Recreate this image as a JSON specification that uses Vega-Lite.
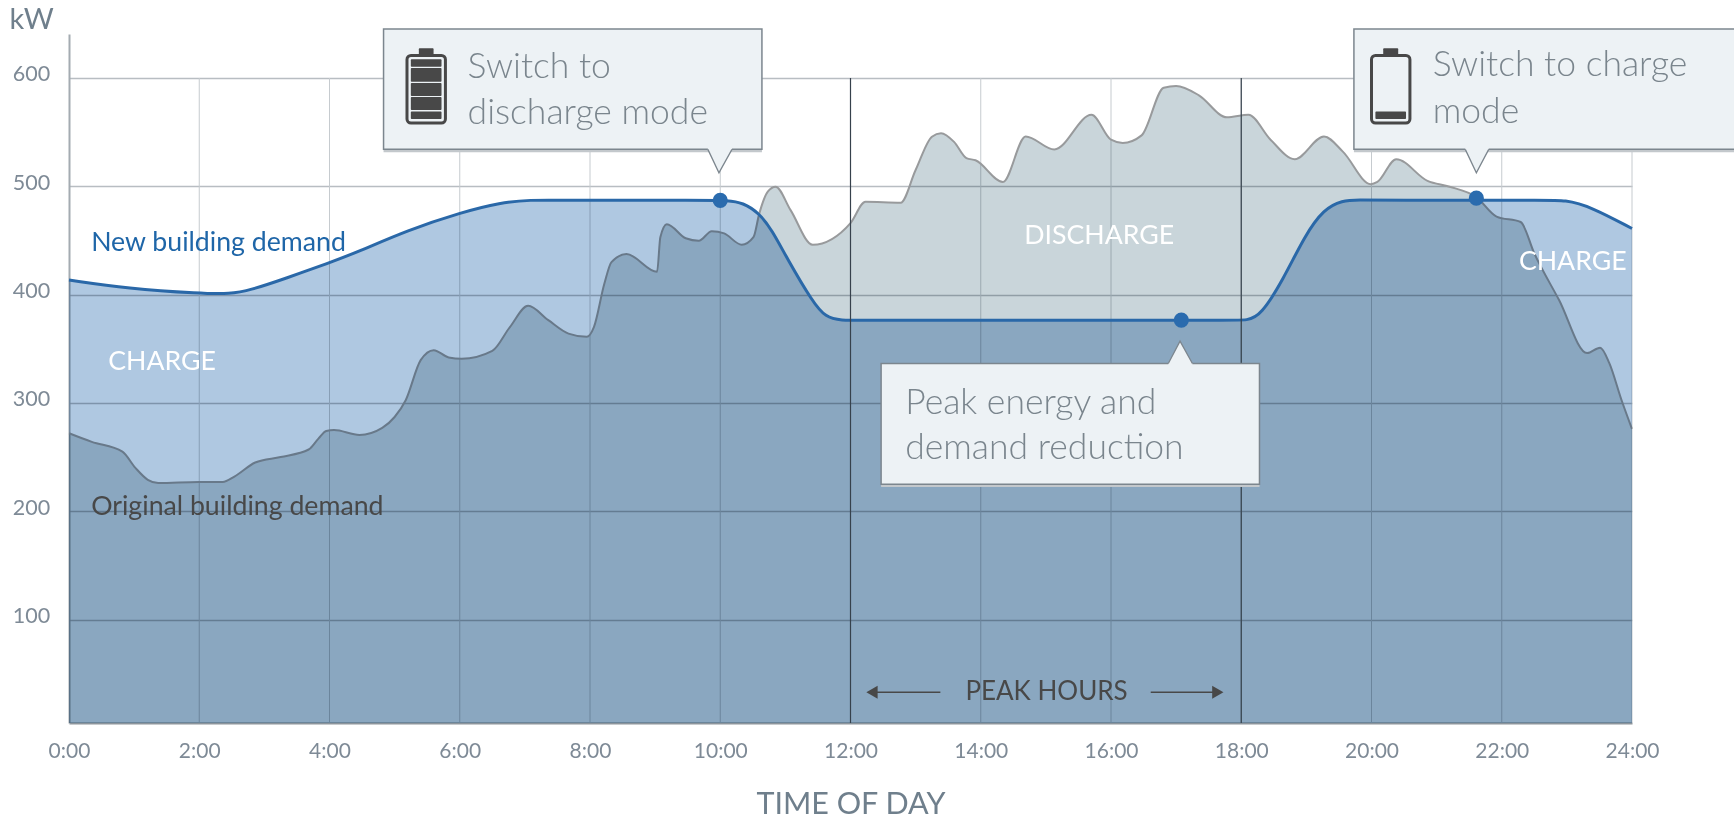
{
"$schema":"https://vega.github.io/schema/vega-lite/v6.json",
"width":1563,"height":689,"autosize":{"type":"none"},
"padding":{"left":69,"top":34,"right":102,"bottom":98},
"background":"white",
"datasets":{
"original":[{"h":0,"kw":272},{"h":0.35,"kw":264},{"h":0.82,"kw":255},{"h":1.02,"kw":240},{"h":1.21,"kw":229},{"h":1.37,"kw":226},{"h":2,"kw":227},{"h":2.36,"kw":227},{"h":2.54,"kw":232},{"h":2.86,"kw":245},{"h":3.25,"kw":250},{"h":3.68,"kw":257},{"h":3.83,"kw":267},{"h":3.95,"kw":274},{"h":4.07,"kw":275},{"h":4.46,"kw":270.5},{"h":4.81,"kw":277},{"h":5,"kw":287},{"h":5.17,"kw":302.5},{"h":5.4,"kw":339.5},{"h":5.6,"kw":348.7},{"h":5.83,"kw":342},{"h":6.03,"kw":340.7},{"h":6.5,"kw":348},{"h":6.77,"kw":370},{"h":7.05,"kw":389.7},{"h":7.36,"kw":376.4},{"h":7.67,"kw":364},{"h":7.95,"kw":361},{"h":8.06,"kw":370},{"h":8.22,"kw":410},{"h":8.33,"kw":430},{"h":8.56,"kw":437.4},{"h":9.03,"kw":421},{"h":9.08,"kw":453},{"h":9.18,"kw":465},{"h":9.47,"kw":452},{"h":9.67,"kw":449.7},{"h":9.87,"kw":458.6},{"h":10.06,"kw":456.5},{"h":10.33,"kw":446},{"h":10.51,"kw":453},{"h":10.6,"kw":475},{"h":10.73,"kw":495},{"h":10.85,"kw":499.6},{"h":11.08,"kw":478},{"h":11.42,"kw":446},{"h":12,"kw":466},{"h":12.23,"kw":485.7},{"h":12.77,"kw":484.8},{"h":13,"kw":515},{"h":13.25,"kw":545.8},{"h":13.39,"kw":549},{"h":13.59,"kw":541},{"h":13.78,"kw":526},{"h":13.92,"kw":524},{"h":14.34,"kw":504},{"h":14.69,"kw":546},{"h":15.13,"kw":534},{"h":15.7,"kw":566},{"h":16,"kw":543},{"h":16.18,"kw":540},{"h":16.47,"kw":547},{"h":16.81,"kw":591},{"h":17,"kw":592.6},{"h":17.35,"kw":584},{"h":17.78,"kw":563.7},{"h":18.11,"kw":566},{"h":18.45,"kw":543},{"h":18.82,"kw":525},{"h":19.27,"kw":546},{"h":19.56,"kw":532},{"h":19.99,"kw":502},{"h":20.09,"kw":504},{"h":20.38,"kw":525},{"h":20.86,"kw":505},{"h":21.2,"kw":499.6},{"h":21.61,"kw":490},{"h":21.92,"kw":472},{"h":22.29,"kw":467},{"h":22.5,"kw":438},{"h":22.88,"kw":395},{"h":23.31,"kw":346},{"h":23.51,"kw":351},{"h":23.65,"kw":337},{"h":23.84,"kw":302.5},{"h":24,"kw":276}],
"newDemand":[{"h":0,"kw":413.4},{"h":0.9,"kw":405.7},{"h":2.02,"kw":401},{"h":2.47,"kw":400.5},{"h":2.78,"kw":404},{"h":3.33,"kw":415},{"h":4,"kw":429.5},{"h":4.42,"kw":439},{"h":5.2,"kw":459.6},{"h":6.03,"kw":476},{"h":6.62,"kw":485},{"h":7.1,"kw":487.5},{"h":7.5,"kw":487},{"h":9.8,"kw":487},{"h":10.1,"kw":487},{"h":10.35,"kw":485},{"h":10.6,"kw":475},{"h":10.79,"kw":460},{"h":11.03,"kw":433},{"h":11.42,"kw":393},{"h":11.62,"kw":379},{"h":11.85,"kw":376},{"h":12.2,"kw":376.4},{"h":17.8,"kw":376.4},{"h":18.1,"kw":376},{"h":18.3,"kw":381},{"h":18.64,"kw":413.4},{"h":18.98,"kw":455},{"h":19.27,"kw":479},{"h":19.55,"kw":487},{"h":19.8,"kw":487.5},{"h":20.2,"kw":487},{"h":22.6,"kw":487},{"h":22.98,"kw":487.5},{"h":23.37,"kw":481},{"h":24,"kw":461}],
"boxes":[{"x1":4.83,"x2":10.64,"y1":645.3,"y2":534.1},{"x1":19.73,"x2":25.6,"y1":645.3,"y2":534.1},{"x1":12.47,"x2":18.28,"y1":336.4,"y2":225}],
"tails":[{"t":"a","h":9.81,"kw":534.1,"b":536},{"t":"a","h":9.98,"kw":512.5,"b":536},{"t":"a","h":10.18,"kw":534.1,"b":536},{"t":"b","h":21.44,"kw":534.1,"b":536},{"t":"b","h":21.61,"kw":512.5,"b":536},{"t":"b","h":21.8,"kw":534.1,"b":536},{"t":"c","h":16.88,"kw":336.4,"b":334},{"t":"c","h":17.06,"kw":357,"b":334},{"t":"c","h":17.25,"kw":336.4,"b":334}],
"battFill":[{"x1":5.372,"x2":5.598,"y1":627.4,"y2":621},{"x1":5.249,"x2":5.72,"y1":617.3,"y2":610.4},{"x1":5.249,"x2":5.72,"y1":609.2,"y2":596.6},{"x1":5.249,"x2":5.72,"y1":595.4,"y2":583.4},{"x1":5.249,"x2":5.72,"y1":582.4,"y2":570.4},{"x1":5.249,"x2":5.72,"y1":569,"y2":562.1},{"x1":20.18,"x2":20.41,"y1":627.4,"y2":621},{"x1":20.06,"x2":20.53,"y1":569,"y2":562.1}],
"battBody":[{"x1":5.19,"x2":5.78,"y1":620.8,"y2":558.4},{"x1":20,"x2":20.59,"y1":620.8,"y2":558.4}],
"calloutText":[{"h":6.12,"kw":610.4,"label":"Switch to"},{"h":6.12,"kw":567.7,"label":"discharge mode"},{"h":20.94,"kw":612,"label":"Switch to charge"},{"h":20.94,"kw":569,"label":"mode"},{"h":12.84,"kw":299.8,"label":"Peak energy and"},{"h":12.84,"kw":258.2,"label":"demand reduction"}],
"whiteText":[{"h":1.43,"kw":337.6,"label":"CHARGE"},{"h":23.09,"kw":430,"label":"CHARGE"},{"h":15.82,"kw":454,"label":"DISCHARGE"}],
"dots":[{"h":10,"kw":487},{"h":17.08,"kw":376.5},{"h":21.61,"kw":489}],
"arrows":[{"x1":12.3,"x2":13.38},{"x1":16.61,"x2":17.66}],
"arrowHeads":[{"h":12.33,"dir":"left"},{"h":17.64,"dir":"right"}]
},
"layer":[
{"data":{"values":[{"h":2},{"h":4},{"h":6},{"h":8},{"h":10},{"h":14},{"h":16},{"h":20},{"h":22},{"h":24},{"h":12},{"h":18}]},
 "mark":{"type":"rule","color":"#C6CBCF","strokeWidth":1},
 "encoding":{
  "x":{"field":"h","type":"quantitative","scale":{"domain":[0,24],"nice":false,"zero":false},
   "axis":{"title":"TIME OF DAY","titleFont":"Lato","titleFontWeight":400,"titleFontSize":30.5,"titleColor":"#6F7F8C","titlePadding":28,"values":[0,2,4,6,8,10,12,14,16,18,20,22,24],"labelExpr":"datum.value+':00'","labelFont":"Lato","labelFontSize":21,"labelColor":"#7E8A96","labelPadding":17,"labelFlush":false,"labelOverlap":false,"ticks":false,"grid":false,"domainColor":"#8D959C","domainWidth":2}},
  "y":{"datum":600,"type":"quantitative","scale":{"domain":[4.5,640.6],"nice":false,"zero":false},
   "axis":{"title":"kW","titleFont":"Lato","titleFontWeight":400,"titleFontSize":29,"titleColor":"#6F7F8C","titleAngle":0,"titleX":-60,"titleY":-15,"titleAlign":"left","titleBaseline":"middle","values":[100,200,300,400,500,600],"labelFont":"Lato","labelFontSize":21.5,"labelColor":"#7E8A96","labelAlign":"center","labelPadding":38,"labelOffset":-3,"ticks":false,"grid":true,"gridColor":"#B8BDC2","gridWidth":1.5,"domainColor":"#A4ABB1","domainWidth":2}},
  "y2":{"datum":4.5}
 }},
{"data":{"name":"original"},"mark":{"type":"area","interpolate":"monotone","color":"#C9D5DA","blend":"multiply"},
 "encoding":{"x":{"field":"h","type":"quantitative"},"y":{"field":"kw","type":"quantitative"},"y2":{"datum":4.5}}},
{"data":{"name":"original"},"mark":{"type":"line","interpolate":"monotone","color":"#989A9C","strokeWidth":2},
 "encoding":{"x":{"field":"h","type":"quantitative"},"y":{"field":"kw","type":"quantitative"}}},
{"data":{"name":"newDemand"},"mark":{"type":"area","interpolate":"basis","color":"#AFC8E1","blend":"multiply"},
 "encoding":{"x":{"field":"h","type":"quantitative"},"y":{"field":"kw","type":"quantitative"},"y2":{"datum":4.5}}},
{"data":{"name":"newDemand"},"mark":{"type":"line","interpolate":"basis","color":"#2A68A8","strokeWidth":3},
 "encoding":{"x":{"field":"h","type":"quantitative"},"y":{"field":"kw","type":"quantitative"}}},
{"data":{"values":[{"h":12},{"h":18}]},"mark":{"type":"rule","color":"#36414C","strokeWidth":1.2},
 "encoding":{"x":{"field":"h","type":"quantitative"},"y":{"datum":600},"y2":{"datum":4.5}}},
{"data":{"name":"dots"},"mark":{"type":"point","filled":true,"color":"#2A6BAE","size":230,"opacity":1},
 "encoding":{"x":{"field":"h","type":"quantitative"},"y":{"field":"kw","type":"quantitative"}}},
{"data":{"name":"boxes"},"transform":[{"calculate":"datum.y2-2.6","as":"yShadow"}],"mark":{"type":"rect","color":"#C3C8CC","clip":false},
 "encoding":{"x":{"field":"x1","type":"quantitative"},"x2":{"field":"x2"},"y":{"field":"y2","type":"quantitative"},"y2":{"field":"yShadow"}}},
{"data":{"name":"boxes"},"mark":{"type":"rect","fill":"#EDF2F5","stroke":"#7C868E","strokeWidth":1.5,"clip":false},
 "encoding":{"x":{"field":"x1","type":"quantitative"},"x2":{"field":"x2"},"y":{"field":"y1","type":"quantitative"},"y2":{"field":"y2"}}},
{"data":{"name":"tails"},"mark":{"type":"area","color":"#EDF2F5"},
 "encoding":{"x":{"field":"h","type":"quantitative"},"y":{"field":"kw","type":"quantitative"},"y2":{"field":"b"},"detail":{"field":"t"}}},
{"data":{"name":"tails"},"mark":{"type":"line","color":"#7C868E","strokeWidth":1.3},
 "encoding":{"x":{"field":"h","type":"quantitative"},"y":{"field":"kw","type":"quantitative"},"detail":{"field":"t"}}},
{"data":{"name":"battBody"},"mark":{"type":"rect","fill":"#EDF2F5","stroke":"#484848","strokeWidth":3,"cornerRadius":4},
 "encoding":{"x":{"field":"x1","type":"quantitative"},"x2":{"field":"x2"},"y":{"field":"y1","type":"quantitative"},"y2":{"field":"y2"}}},
{"data":{"name":"battFill"},"mark":{"type":"rect","color":"#484848","cornerRadius":1},
 "encoding":{"x":{"field":"x1","type":"quantitative"},"x2":{"field":"x2"},"y":{"field":"y1","type":"quantitative"},"y2":{"field":"y2"}}},
{"data":{"name":"calloutText"},"mark":{"type":"text","font":"Lato","fontWeight":300,"fontSize":35.5,"color":"#7A858D","align":"left","baseline":"middle"},
 "encoding":{"x":{"field":"h","type":"quantitative"},"y":{"field":"kw","type":"quantitative"},"text":{"field":"label"}}},
{"data":{"name":"whiteText"},"mark":{"type":"text","font":"Lato","fontWeight":400,"fontSize":26.7,"color":"#FFFFFF","align":"center","baseline":"middle"},
 "encoding":{"x":{"field":"h","type":"quantitative"},"y":{"field":"kw","type":"quantitative"},"text":{"field":"label"}}},
{"data":{"values":[{"h":0.34,"kw":447.6,"label":"New building demand"}]},"mark":{"type":"text","font":"Lato","fontSize":26.7,"color":"#1F66A8","align":"left","baseline":"middle"},
 "encoding":{"x":{"field":"h","type":"quantitative"},"y":{"field":"kw","type":"quantitative"},"text":{"field":"label"}}},
{"data":{"values":[{"h":0.34,"kw":204,"label":"Original building demand"}]},"mark":{"type":"text","font":"Lato","fontSize":26.7,"color":"#484848","align":"left","baseline":"middle"},
 "encoding":{"x":{"field":"h","type":"quantitative"},"y":{"field":"kw","type":"quantitative"},"text":{"field":"label"}}},
{"data":{"values":[{"h":15.01,"kw":32.8,"label":"PEAK HOURS"}]},"mark":{"type":"text","font":"Lato","fontSize":26,"color":"#484848","align":"center","baseline":"middle"},
 "encoding":{"x":{"field":"h","type":"quantitative"},"y":{"field":"kw","type":"quantitative"},"text":{"field":"label"}}},
{"data":{"name":"arrows"},"mark":{"type":"rule","color":"#484848","strokeWidth":1.5},
 "encoding":{"x":{"field":"x1","type":"quantitative"},"x2":{"field":"x2"},"y":{"datum":32.8}}},
{"data":{"name":"arrowHeads"},"mark":{"type":"point","filled":true,"color":"#484848","size":170,"opacity":1},
 "encoding":{"x":{"field":"h","type":"quantitative"},"y":{"datum":32.8},"shape":{"field":"dir","type":"nominal","scale":{"domain":["left","right"],"range":["triangle-left","triangle-right"]},"legend":null}}}
],
"config":{"view":{"stroke":null}}
}
